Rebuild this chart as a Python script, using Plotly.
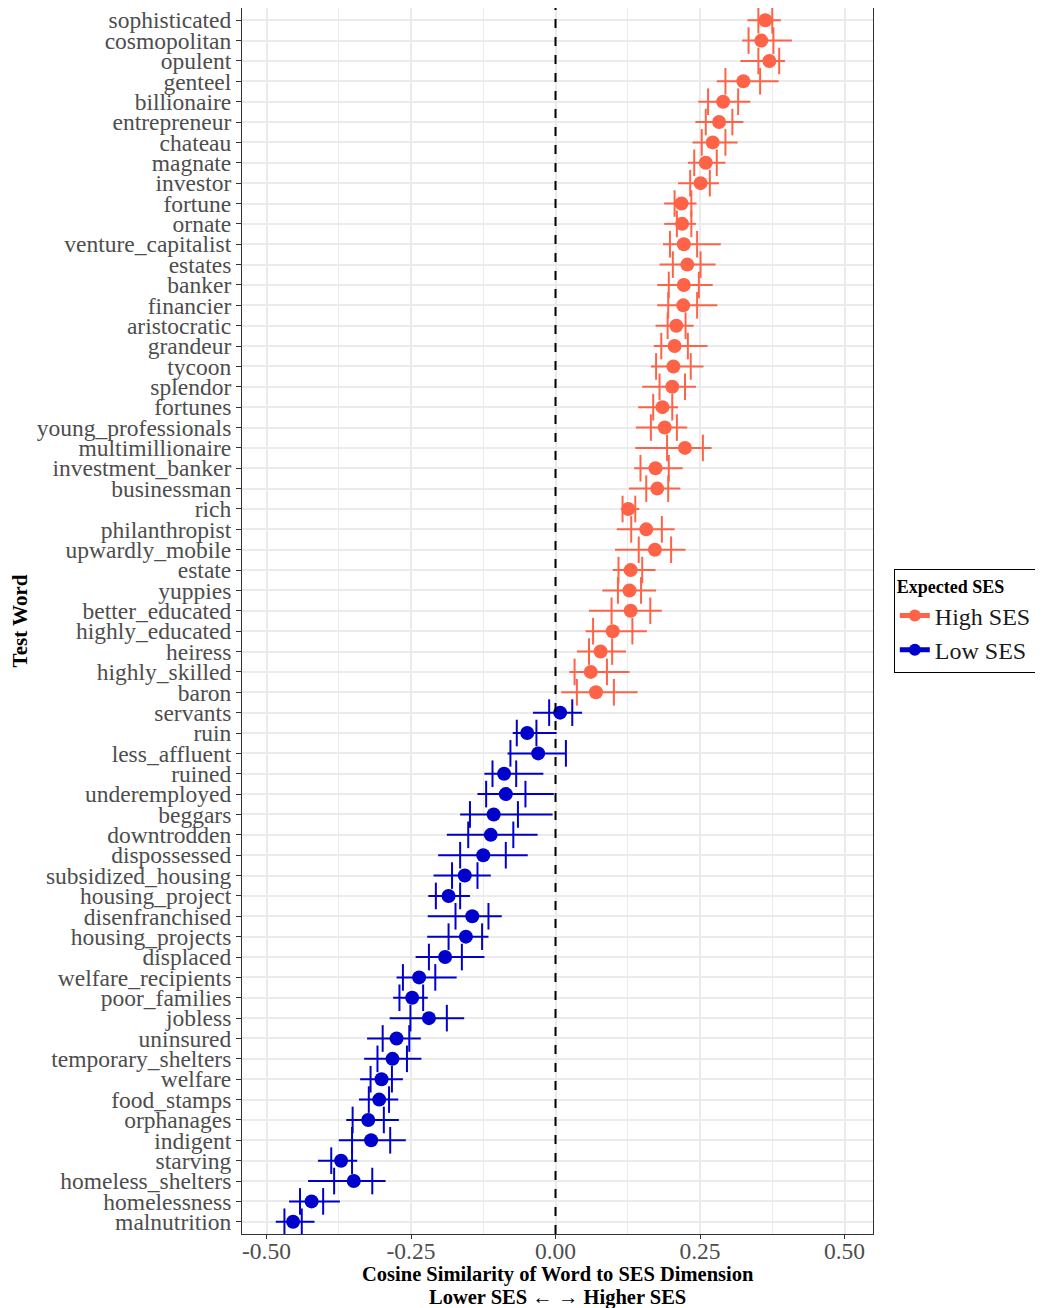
import plotly.graph_objects as go

high_words = ["sophisticated", "cosmopolitan", "opulent", "genteel", "billionaire", "entrepreneur",
              "chateau", "magnate", "investor", "fortune", "ornate", "venture_capitalist", "estates",
              "banker", "financier", "aristocratic", "grandeur", "tycoon", "splendor", "fortunes",
              "young_professionals", "multimillionaire", "investment_banker", "businessman", "rich",
              "philanthropist", "upwardly_mobile", "estate", "yuppies", "better_educated",
              "highly_educated", "heiress", "highly_skilled", "baron"]
high_point = [0.363, 0.356, 0.370, 0.325, 0.290, 0.283, 0.272, 0.260, 0.251, 0.218, 0.219, 0.222, 0.228,
              0.222, 0.221, 0.209, 0.206, 0.204, 0.202, 0.185, 0.189, 0.224, 0.173, 0.176, 0.126,
              0.157, 0.172, 0.130, 0.128, 0.130, 0.099, 0.078, 0.061, 0.070]
high_lo = [0.332, 0.323, 0.320, 0.279, 0.247, 0.242, 0.237, 0.229, 0.212, 0.188, 0.188, 0.186, 0.180,
           0.176, 0.176, 0.173, 0.170, 0.165, 0.150, 0.143, 0.139, 0.138, 0.136, 0.127, 0.113,
           0.106, 0.103, 0.099, 0.081, 0.058, 0.052, 0.037, 0.024, 0.010]
high_hi = [0.390, 0.409, 0.397, 0.386, 0.337, 0.325, 0.315, 0.294, 0.283, 0.244, 0.243, 0.286, 0.277,
           0.272, 0.280, 0.239, 0.263, 0.256, 0.243, 0.212, 0.228, 0.270, 0.220, 0.216, 0.145,
           0.206, 0.225, 0.173, 0.174, 0.184, 0.158, 0.122, 0.128, 0.142]
high_q1 = [0.351, 0.334, 0.351, 0.294, 0.264, 0.260, 0.253, 0.240, 0.233, 0.206, 0.210, 0.198, 0.203,
           0.196, 0.195, 0.194, 0.183, 0.174, 0.180, 0.169, 0.165, 0.193, 0.147, 0.157, 0.116,
           0.131, 0.144, 0.109, 0.108, 0.097, 0.065, 0.058, 0.033, 0.037]
high_q3 = [0.375, 0.377, 0.387, 0.354, 0.316, 0.306, 0.294, 0.279, 0.267, 0.235, 0.235, 0.245, 0.251,
           0.248, 0.245, 0.225, 0.229, 0.234, 0.224, 0.202, 0.210, 0.255, 0.196, 0.195, 0.138,
           0.184, 0.200, 0.150, 0.148, 0.164, 0.133, 0.098, 0.089, 0.101]

low_words = ["servants", "ruin", "less_affluent", "ruined", "underemployed", "beggars", "downtrodden",
             "dispossessed", "subsidized_housing", "housing_project", "disenfranchised",
             "housing_projects", "displaced", "welfare_recipients", "poor_families", "jobless",
             "uninsured", "temporary_shelters", "welfare", "food_stamps", "orphanages", "indigent",
             "starving", "homeless_shelters", "homelessness", "malnutrition"]
low_point = [0.008, -0.049, -0.030, -0.089, -0.086, -0.107, -0.112, -0.125, -0.157, -0.185, -0.144,
             -0.155, -0.191, -0.236, -0.248, -0.219, -0.275, -0.282, -0.301, -0.305, -0.324, -0.319,
             -0.371, -0.349, -0.422, -0.454]
low_lo = [-0.039, -0.074, -0.083, -0.123, -0.135, -0.165, -0.188, -0.203, -0.211, -0.220, -0.221,
          -0.222, -0.242, -0.275, -0.281, -0.287, -0.326, -0.331, -0.338, -0.340, -0.362, -0.375,
          -0.411, -0.428, -0.461, -0.484]
low_hi = [0.046, 0.002, 0.018, -0.021, -0.003, -0.005, -0.031, -0.048, -0.112, -0.148, -0.093,
          -0.116, -0.123, -0.171, -0.221, -0.158, -0.233, -0.232, -0.264, -0.272, -0.271, -0.259,
          -0.343, -0.294, -0.373, -0.417]
low_q1 = [-0.011, -0.067, -0.078, -0.109, -0.120, -0.148, -0.151, -0.165, -0.179, -0.207, -0.173,
          -0.185, -0.219, -0.264, -0.270, -0.251, -0.299, -0.308, -0.320, -0.323, -0.351, -0.352,
          -0.388, -0.383, -0.442, -0.469]
low_q3 = [0.029, -0.033, 0.018, -0.068, -0.052, -0.065, -0.073, -0.086, -0.135, -0.165, -0.116,
          -0.127, -0.162, -0.208, -0.229, -0.188, -0.253, -0.257, -0.283, -0.288, -0.297, -0.286,
          -0.352, -0.317, -0.402, -0.439]

x_ticks = [-0.50, -0.25, 0.00, 0.25, 0.50]
x_ticklabels = ["-0.50", "-0.25", "0.00", "0.25", "0.50"]
x_minor = [-0.375, -0.125, 0.125, 0.375]

x_title_1 = "Cosine Similarity of Word to SES Dimension"
x_title_2 = "Lower SES \u2190 \u2192 Higher SES"
y_title = "Test Word"
legend_title = "Expected SES"

HIGH = "#FF6347"
LOW = "#0000CD"
SERIF = "Liberation Serif, Times New Roman, serif"

all_words = high_words + low_words

fig = go.Figure()


def add_group(words, pt, lo, hi, q1, q3, color, name):
    fig.add_trace(go.Scatter(
        x=pt, y=words, mode="markers", name=name, showlegend=False,
        marker=dict(color=color, size=14, symbol="circle"),
        error_x=dict(type="data", symmetric=False,
                     array=[h - p for h, p in zip(hi, pt)],
                     arrayminus=[p - l for p, l in zip(pt, lo)],
                     color=color, thickness=2, width=0),
    ))
    fig.add_trace(go.Scatter(
        x=q1 + q3, y=words + words, mode="markers", showlegend=False,
        marker=dict(symbol="line-ns", size=19, color=color,
                    line=dict(color=color, width=2)),
        hoverinfo="skip",
    ))
    # legend key: point with a horizontal whisker
    fig.add_trace(go.Scatter(
        x=[None], y=[None], mode="lines+markers", name=name,
        marker=dict(color=color, size=14, symbol="circle"),
        line=dict(color=color, width=2),
    ))


add_group(high_words, high_point, high_lo, high_hi, high_q1, high_q3, HIGH, "High SES")
add_group(low_words, low_point, low_lo, low_hi, low_q1, low_q3, LOW, "Low SES")

fig.add_vline(x=0, line=dict(color="black", width=2, dash="dash"))

# page body adds an 8px margin; figure sized to compensate
fig.update_layout(
    width=1035, height=1300,
    margin=dict(l=234, r=170, t=0, b=74),
    paper_bgcolor="white", plot_bgcolor="white",
    font=dict(family=SERIF, color="#1a1a1a"),
    showlegend=True,
    legend=dict(
        title=dict(text="<b>" + legend_title + "</b>", font=dict(size=18, family=SERIF, color="black")),
        font=dict(size=24, family=SERIF, color="#1a1a1a"),
        x=1.033, y=0.5, xanchor="left", yanchor="middle",
        bordercolor="black", borderwidth=1, bgcolor="white",
        itemsizing="constant", tracegroupgap=0, itemwidth=30,
    ),
)

fig.add_annotation(text="<b>" + x_title_1 + "</b>", xref="paper", yref="paper",
                   x=0.5, y=-0.0334, xanchor="center", yanchor="middle", showarrow=False,
                   font=dict(size=20.5, family=SERIF, color="black"))
fig.add_annotation(text="<b>" + x_title_2 + "</b>", xref="paper", yref="paper",
                   x=0.5, y=-0.0514, xanchor="center", yanchor="middle", showarrow=False,
                   font=dict(size=20.5, family=SERIF, color="black"))

fig.update_xaxes(
    range=[-0.5424, 0.5493],
    tickvals=x_ticks, ticktext=x_ticklabels,
    tickfont=dict(size=23.5, family=SERIF, color="#4d4d4d"),
    ticks="outside", ticklen=4, tickcolor="#333333", tickwidth=1,
    ticklabelstandoff=-8,
    showgrid=True, gridcolor="#EBEBEB", gridwidth=2,
    minor=dict(tickvals=x_minor, showgrid=True,
               gridcolor="#EBEBEB", gridwidth=1.2, ticks=""),
    zeroline=False,
    showline=True, linecolor="#333333", linewidth=1, mirror=True,
)

fig.update_yaxes(
    type="category",
    categoryorder="array", categoryarray=all_words,
    tickmode="array", tickvals=all_words, ticktext=all_words,
    range=[len(all_words) - 0.4, -0.6],
    tickfont=dict(size=23.5, family=SERIF, color="#4d4d4d"),
    ticks="outside", ticklen=5, tickcolor="#333333", tickwidth=1,
    showgrid=True, gridcolor="#EBEBEB", gridwidth=2,
    zeroline=False,
    showline=True, linecolor="#333333", linewidth=1, mirror=True,
    title=dict(text="<b>" + y_title + "</b>", font=dict(size=21, family=SERIF, color="black"), standoff=4),
)

fig.write_html("out.html")
